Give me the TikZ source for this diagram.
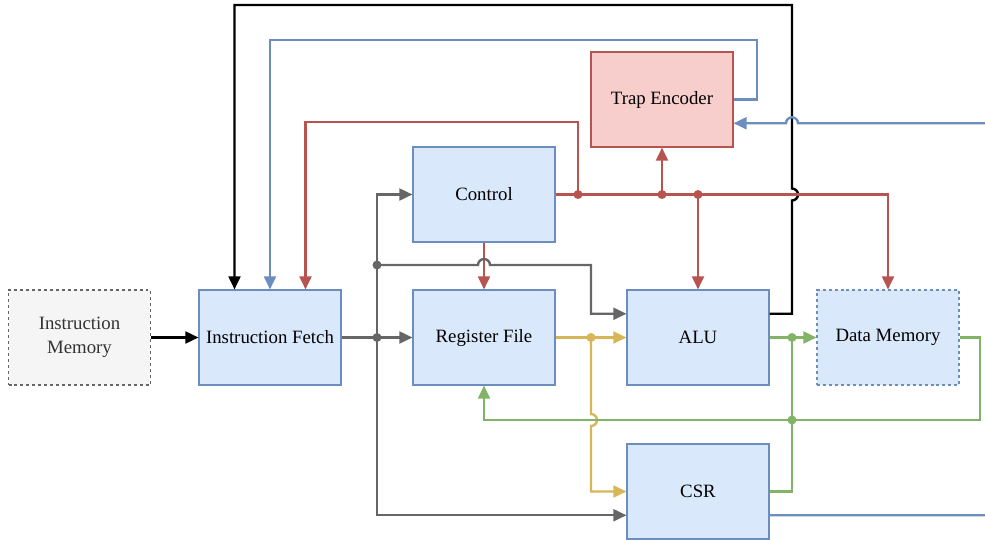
\documentclass[tikz,border=0pt]{standalone}
\usepackage{fontspec}
\setmainfont{Liberation Serif}
\usetikzlibrary{arrows.meta}
\definecolor{bfill}{HTML}{DAE8FC}
\definecolor{bline}{HTML}{6C8EBF}
\definecolor{rfill}{HTML}{F8CECC}
\definecolor{rline}{HTML}{B85450}
\definecolor{yline}{HTML}{D6B656}
\definecolor{gline}{HTML}{82B366}
\definecolor{kline}{HTML}{666666}
\definecolor{mfill}{HTML}{F5F5F5}
\definecolor{mtext}{HTML}{333333}
\tikzset{
  block/.style={draw=bline,fill=bfill,line width=0.6pt,minimum width=2.84cm,minimum height=1.9cm,
    inner sep=0pt,align=center,font=\fontsize{10.7}{13.6}\selectfont},
  memblock/.style={block,draw=kline,fill=mfill,text=mtext,dash pattern=on 1.7pt off 1.7pt},
  trapblock/.style={block,draw=rline,fill=rfill},
  wire/.style={line width=1.35pt,-{Triangle[length=7.5pt,width=6.8pt]}},
  plainwire/.style={line width=1.35pt}
}
\begin{document}
\begin{tikzpicture}[x=0.02cm,y=-0.02cm]
\useasboundingbox (0,0) rectangle (985,539);
% blocks
\node [memblock] (imem) at (79.5,337.5) {Instruction\\Memory};
\node [block] (ifetch) at (270,337.5) {Instruction Fetch};
\node [block] (regf) at (484,337.5) {Register File};
\node [block] (ctrl) at (484,194.5) {Control};
\node [block] (alu) at (698,337.5) {ALU};
\node [block,dash pattern=on 1.7pt off 1.7pt] (dmem) at (888,337.5) {Data Memory};
\node [trapblock] (trap) at (662,99.5) {Trap Encoder};
\node [block] (csr) at (698,491.5) {CSR};
% junctions
\coordinate (gA) at (377,337.5);
\coordinate (gB) at (377,265);
\coordinate (yA) at (591,337.5);
\coordinate (gnA) at (792,337.5);
\coordinate (gnB) at (792,420);
\coordinate (rA) at (578,194.5);
\coordinate (rB) at (662,194.5);
\coordinate (rC) at (698,194.5);
\coordinate (edgeT) at (985,123.25);
\coordinate (edgeB) at (985,515.25);
% black
\draw [wire,black] (imem) -- (ifetch);
\draw [wire,black] ([yshift=0.475cm]alu.east) -- (792,313.75) -- (792,200.5)
  arc [start angle=90,end angle=-90,radius=6] -- (792,5) -| ([xshift=-0.71cm]ifetch.north);
% blue
\draw [wire,bline] (trap.east) -- (757,99.5) -- (757,40) -| (ifetch.north);
\draw [wire,bline] (edgeT) -- (798,123.25) arc [start angle=0,end angle=-180,radius=6]
  -- ([yshift=-0.475cm]trap.east);
\draw [plainwire,bline] ([yshift=-0.475cm]csr.east) -- (edgeB);
% red
\draw [wire,rline] (ctrl.east) -| (dmem.north);
\draw [wire,rline] (rA) -- (578,122) -| ([xshift=0.71cm]ifetch.north);
\draw [wire,rline] (rB) -- (trap.south);
\draw [wire,rline] (rC) -- (alu.north);
\draw [wire,rline] (ctrl.south) -- (regf.north);
% gray
\draw [wire,kline] (ifetch) -- (regf);
\draw [wire,kline] (gA) |- (ctrl.west);
\draw [wire,kline] (gA) |- ([yshift=-0.475cm]csr.west);
\draw [wire,kline] (gB) -- (478,265) arc [start angle=180,end angle=360,radius=6]
  -- (591,265) |- ([yshift=0.475cm]alu.west);
% yellow
\draw [wire,yline] (regf) -- (alu);
\draw [wire,yline] (yA) -- (591,414) arc [start angle=-90,end angle=90,radius=6] |- (csr.west);
% green
\draw [wire,gline] (alu) -- (dmem);
\draw [plainwire,gline] (csr.east) -| (gnA);
\draw [wire,gline] (dmem.east) -- (980,337.5) -- (980,420) -| (regf.south);
% dots
\fill [kline] (gA) circle (4.5) (gB) circle (4.5);
\fill [rline] (rA) circle (4.5) (rB) circle (4.5) (rC) circle (4.5);
\fill [yline] (yA) circle (4.5);
\fill [gline] (gnA) circle (4.5) (gnB) circle (4.5);
\end{tikzpicture}
\end{document}
